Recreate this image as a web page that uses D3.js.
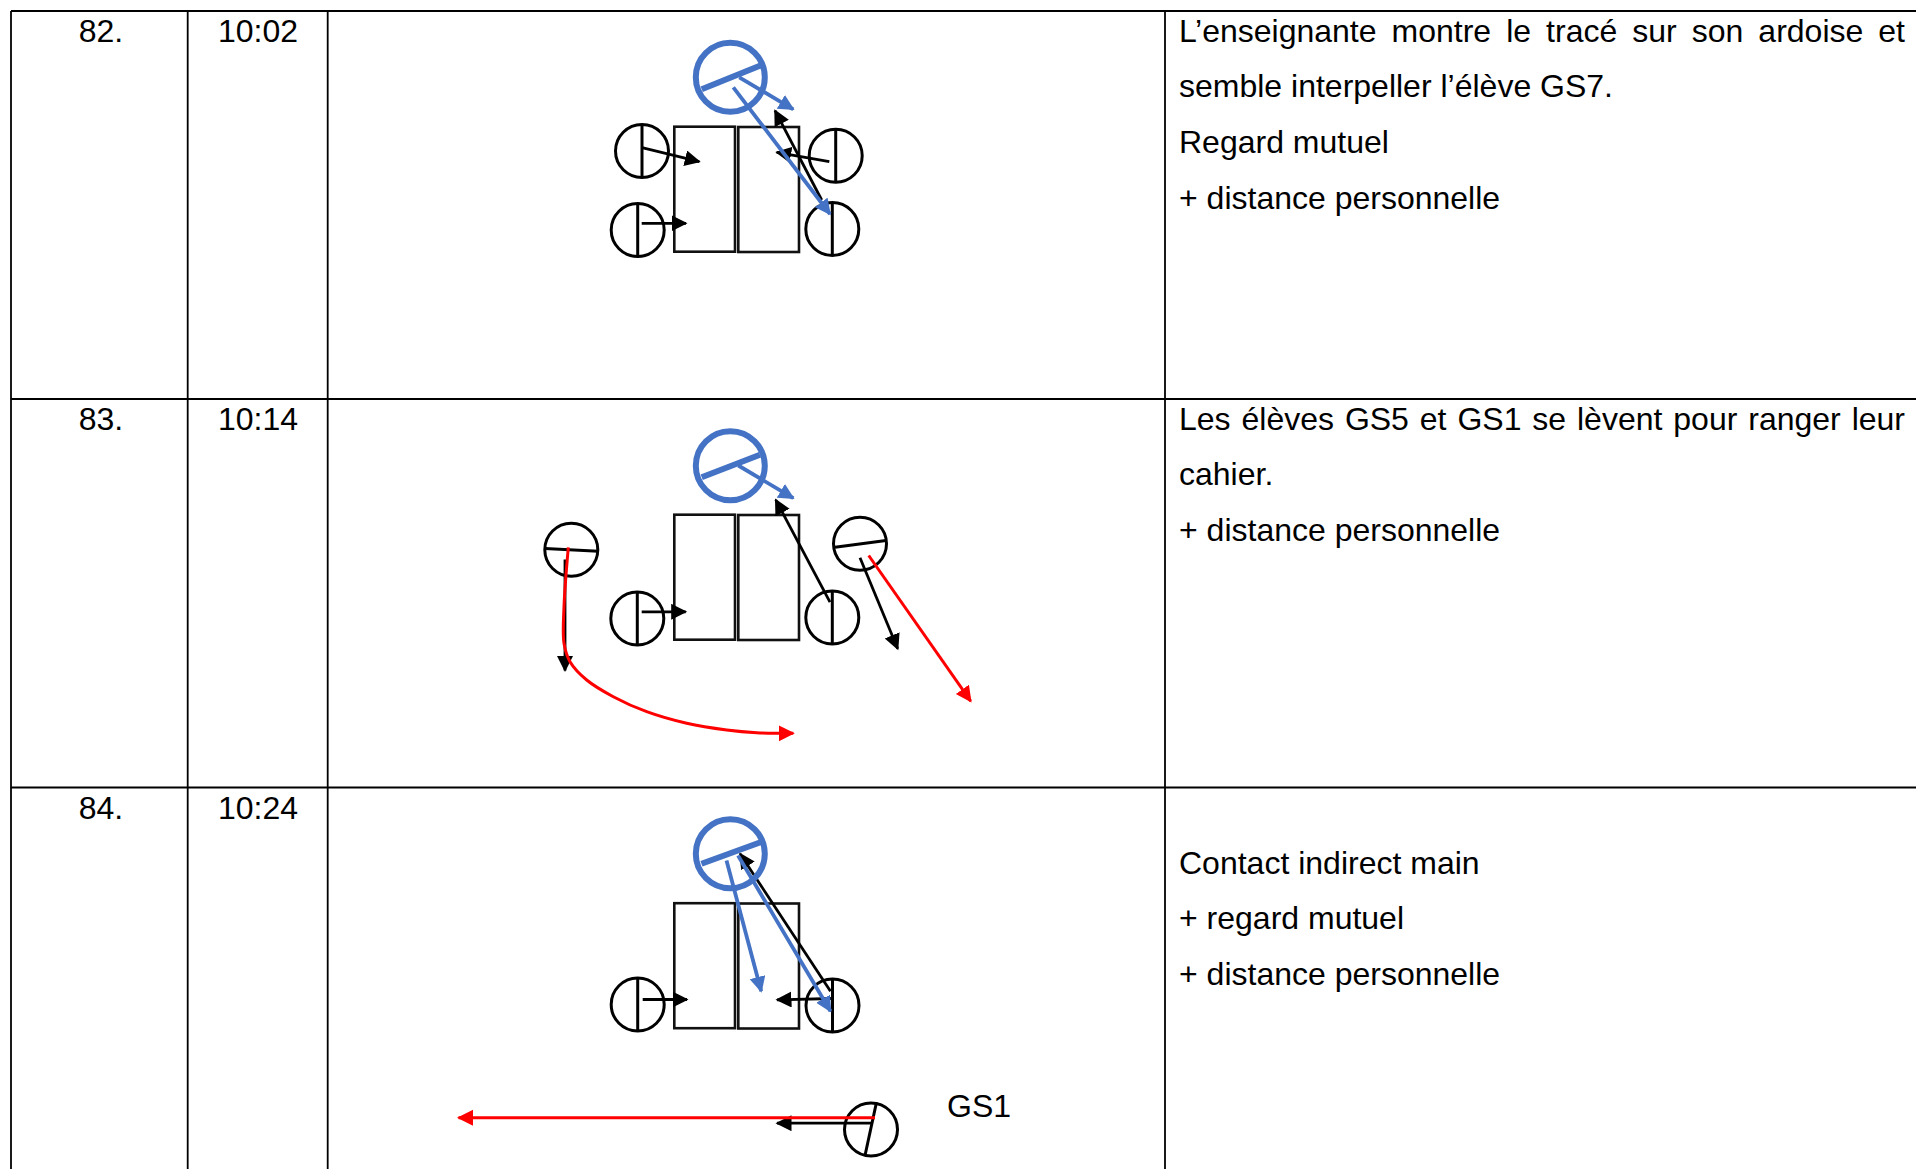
<!DOCTYPE html>
<html>
<head>
<meta charset="utf-8">
<script src="https://cdn.jsdelivr.net/npm/d3@7"></script>
<style>
    html, body { margin: 0; padding: 0; background: #fff; overflow: hidden; }
    text { font-family: "Liberation Sans", Arial, sans-serif; font-size: 32px; fill: #000; }
</style>
</head>
<body>
<svg id="chart" width="1916" height="1169"></svg>
<script>
//Table content
var rowNumbers = ["82.", "83.", "84."];
var rowTimes = ["10:02", "10:14", "10:24"];
var rowNotes = [
    ["L\u2019enseignante montre le trac\u00e9 sur son ardoise et", "semble interpeller l\u2019\u00e9l\u00e8ve GS7.", "Regard mutuel", "+ distance personnelle"],
    ["Les \u00e9l\u00e8ves GS5 et GS1 se l\u00e8vent pour ranger leur", "cahier.", "+ distance personnelle"],
    ["", "Contact indirect main", "+ regard mutuel", "+ distance personnelle"]
];
var justifiedLines = [rowNotes[0][0], rowNotes[1][0]];

//Grid, page pixels
var columnEdges = [11, 187.7, 327.7, 1165];
var rowEdges = [11, 399, 787.5];

//Seating plans, read off the picture relative to the top of each row
//desk: x0, y0, x1, y1
var desks = [[674.3, 115.7, 735, 240.7], [738.3, 116, 799, 241]];

//person: cx, cy, then the two ends of the line across the circle
var teachers = [
    [730.3, 66.3, 701.7, 78.3, 761.7, 54],
    [730.3, 66.8, 701.7, 78.2, 760, 55.8],
    [730.3, 66.3, 701.5, 76.3, 760.5, 54.7]
];
var pupils = [
    [[642, 140, 642, 113, 642, 166.3], [637.7, 219, 637.7, 192, 637.7, 246], [835.7, 144.7, 835.7, 118, 835.7, 171.5], [832.3, 218, 832.3, 191, 832.3, 245]],
    [[571.3, 150.8, 545, 149.5, 598.3, 152.2], [637.3, 219.5, 637.3, 192.5, 637.3, 246.5], [832.3, 218.5, 832.3, 191.5, 832.3, 245.5], [860, 144.8, 835, 148.2, 886, 141.5]],
    [[637.7, 217, 637.7, 190, 637.7, 244], [832.5, 218, 832.5, 191, 832.5, 245], [871, 342, 876.5, 314.7, 865, 368]]
];

//arrows: x0, y0, x1, y1
var blackArrows = [
    [[821.7, 189, 775, 99.7], [829.3, 150.7, 776.7, 141.3], [642, 136.7, 699.3, 150.7], [641.7, 212.3, 686, 212.3]],
    [[830, 203.2, 775.7, 100.8], [565, 160.5, 565, 271.5], [641.7, 212.8, 685.7, 212.8], [860, 158.8, 897.7, 249.8]],
    [[830.5, 203.7, 740, 66.3], [832.3, 211, 777, 212.3], [642.7, 212, 687, 212], [871, 335.7, 777, 335.7]]
];
var blueArrows = [
    [[739.3, 66.3, 793.3, 98.3], [733.3, 76.3, 830, 203]],
    [[738.3, 66.5, 793.3, 99.2]],
    [[726.5, 73, 761.2, 203.7], [738, 68, 830.5, 223.7]]
];
var redArrows = [
    [],
    [[868.7, 156.5, 970.7, 302.2]],
    [[875, 330.3, 458.5, 330.3]]
];
//the walk of GS5 in row 83
var redCurveRow = 1;
var redCurve = [[568.3, 148.3], [564, 207.7], [564, 244.3], [570, 262.7], [586.7, 281], [613.3, 297.7], [646.7, 312.7], [686.7, 324.3], [726.7, 331], [756.7, 333.7], [793.3, 334.3]];

var colors = { black: "#000000", blue: "#4472C4", red: "#FF0000" };

var width = 1916, height = 1169;
var rowHeight = 388;
var lineHeight = 55.7;
var noteRight = 1905;

var svg = d3.select("#chart");

var x = d3.scaleLinear().domain([0, width]).range([0, width]);
var rowY = function(i) {
    return d3.scaleLinear().domain([0, rowHeight]).range([rowEdges[i], rowEdges[i] + rowHeight]);
};

//Arrowheads, one per colour
var defs = svg.append("defs");
Object.keys(colors).forEach(function(name) {
    defs.append("marker")
        .attr("id", "head-" + name)
        .attr("markerUnits", "userSpaceOnUse")
        .attr("markerWidth", 17)
        .attr("markerHeight", 17)
        .attr("refX", 14.5)
        .attr("refY", 8)
        .attr("orient", "auto")
        .append("path")
        .attr("d", "M0,0L16,8L0,16Z")
        .attr("fill", colors[name]);
});

//Table lines
svg.append("g").selectAll("line").data(columnEdges).join("line")
    .attr("x1", function(d) { return x(d); })
    .attr("x2", function(d) { return x(d); })
    .attr("y1", rowEdges[0])
    .attr("y2", height)
    .attr("stroke", "#000")
    .attr("stroke-width", 1.8);

svg.append("g").selectAll("line").data(rowEdges).join("line")
    .attr("x1", columnEdges[0])
    .attr("x2", width)
    .attr("y1", function(d) { return d; })
    .attr("y2", function(d) { return d; })
    .attr("stroke", "#000")
    .attr("stroke-width", 1.8);

var drawArrows = function(g, y, arrows, name, strokeWidth) {
    g.append("g").selectAll("line").data(arrows).join("line")
        .attr("x1", function(d) { return x(d[0]); })
        .attr("y1", function(d) { return y(d[1]); })
        .attr("x2", function(d) { return x(d[2]); })
        .attr("y2", function(d) { return y(d[3]); })
        .attr("stroke", colors[name])
        .attr("stroke-width", strokeWidth)
        .attr("marker-end", "url(#head-" + name + ")");
};

var drawPeople = function(g, y, people, color, strokeWidth, radius) {
    var p = g.append("g").selectAll("g").data(people).join("g");
    p.append("circle")
        .attr("cx", function(d) { return x(d[0]); })
        .attr("cy", function(d) { return y(d[1]); })
        .attr("r", radius)
        .attr("fill", "none")
        .attr("stroke", color)
        .attr("stroke-width", strokeWidth);
    p.append("line")
        .attr("x1", function(d) { return x(d[2]); })
        .attr("y1", function(d) { return y(d[3]); })
        .attr("x2", function(d) { return x(d[4]); })
        .attr("y2", function(d) { return y(d[5]); })
        .attr("stroke", color)
        .attr("stroke-width", strokeWidth);
};

rowNumbers.forEach(function(number, i) {
    var y = rowY(i);
    var g = svg.append("g").attr("class", "row");

    g.append("text").attr("x", x(101)).attr("y", y(31.2)).attr("text-anchor", "middle").text(number);
    g.append("text").attr("x", x(258)).attr("y", y(31.2)).attr("text-anchor", "middle").text(rowTimes[i]);

    g.append("g").selectAll("rect").data(desks).join("rect")
        .attr("x", function(d) { return x(d[0]); })
        .attr("y", function(d) { return y(d[1]); })
        .attr("width", function(d) { return x(d[2]) - x(d[0]); })
        .attr("height", function(d) { return y(d[3]) - y(d[1]); })
        .attr("fill", "none")
        .attr("stroke", "#111")
        .attr("stroke-width", 2.6);

    drawPeople(g, y, pupils[i], colors.black, 3, 26.5);
    drawArrows(g, y, blackArrows[i], "black", 2.8);
    drawPeople(g, y, [teachers[i]], colors.blue, 6, 34.5);
    drawArrows(g, y, blueArrows[i], "blue", 3.8);
    drawArrows(g, y, redArrows[i], "red", 3);

    if (i === redCurveRow) {
        var line = d3.line()
            .x(function(d) { return x(d[0]); })
            .y(function(d) { return y(d[1]); })
            .curve(d3.curveCatmullRom);
        g.append("path")
            .attr("d", line(redCurve))
            .attr("fill", "none")
            .attr("stroke", colors.red)
            .attr("stroke-width", 3)
            .attr("marker-end", "url(#head-red)");
    }

    //Notes, the lines that run to the cell edge get stretched word spacing
    g.append("g").selectAll("text").data(rowNotes[i]).join("text")
        .attr("x", x(1179))
        .attr("y", function(d, j) { return y(30.5 + j * lineHeight); })
        .text(function(d) { return d; })
        .each(function(d) {
            if (justifiedLines.indexOf(d) >= 0) {
                var spare = noteRight - x(1179) - this.getComputedTextLength();
                d3.select(this).attr("word-spacing", spare / (d.split(" ").length - 1));
            }
        });
});

//Label beside the pupil leaving the table in row 84
svg.append("text")
    .attr("x", x(947))
    .attr("y", rowY(2)(329.5))
    .text("GS1");
</script>
</body>
</html>
